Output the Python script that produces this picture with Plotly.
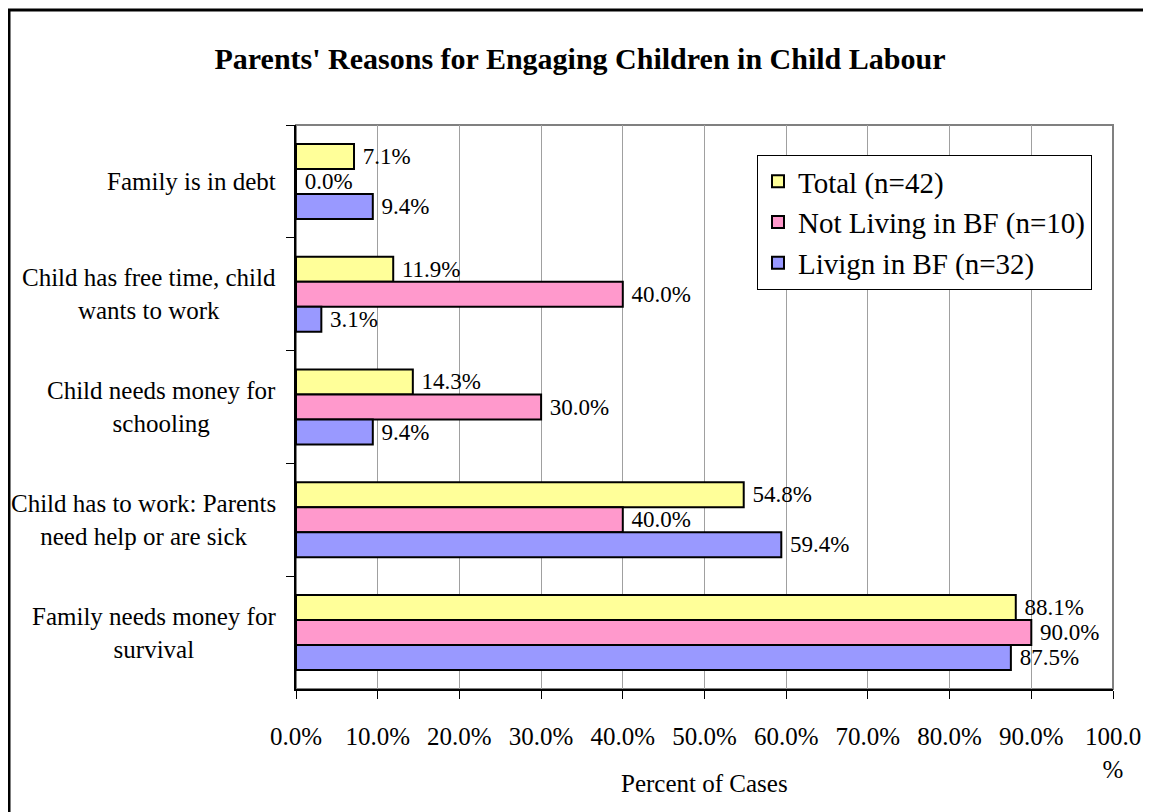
import plotly.graph_objects as go

categories = [
    "Family is in debt",
    "Child has free time, child<br>wants to work",
    "Child needs money for<br>schooling",
    "Child has to work: Parents<br>need help or are sick",
    "Family needs money for<br>survival",
]
series_names = ["Total (n=42)", "Not Living in BF (n=10)", "Livign in BF (n=32)"]
total = [7.1, 11.9, 14.3, 54.8, 88.1]
not_living = [0.0, 40.0, 30.0, 40.0, 90.0]
living = [9.4, 3.1, 9.4, 59.4, 87.5]
colors = ["#FFFF99", "#FF99CC", "#9999FF"]
tick_vals = [0, 10, 20, 30, 40, 50, 60, 70, 80, 90, 100]
tick_text = ["0.0%", "10.0%", "20.0%", "30.0%", "40.0%", "50.0%", "60.0%",
             "70.0%", "80.0%", "90.0%", "100.0<br>%"]

FONT = "Liberation Serif, Times New Roman, serif"

# page offset (body margin) compensation
OX, OY = 8, 8
L, T, R, B = 296 - OX, 125 - OY, 1113 - OX, 689 - OY
PW, PH = R - L, B - T

fig = go.Figure()
for name, vals, col in zip(series_names, [total, not_living, living], colors):
    fig.add_trace(go.Bar(
        y=categories, x=vals, name=name, orientation="h",
        marker=dict(color=col, line=dict(color="black", width=2)),
        text=[f"\u00a0{v:.1f}%" for v in vals], textposition="outside",
        textfont=dict(family=FONT, size=23, color="black"),
        constraintext="none", cliponaxis=False,
    ))

annotations = []
for c in categories:
    annotations.append(dict(
        text=c, x=(278 - 296) / PW, xref="paper", y=c, yref="y",
        xanchor="right", yanchor="middle", align="center", showarrow=False,
        font=dict(family=FONT, size=25, color="black"),
    ))
annotations.append(dict(
    text="Percent of Cases", x=0.5, xref="paper", y=-(783 - 689) / PH, yref="paper",
    xanchor="center", yanchor="middle", showarrow=False,
    font=dict(family=FONT, size=25, color="black"),
))

shapes = [
    dict(type="rect", xref="paper", yref="paper", x0=0, x1=1, y0=0, y1=1,
         line=dict(color="#808080", width=2), layer="below"),
    dict(type="rect", xref="paper", yref="paper",
         x0=(9 - 296) / PW, x1=1.08, y0=-0.3, y1=1 + (125 - 10) / PH,
         line=dict(color="black", width=3), layer="below"),
]

fig.update_layout(
    width=1151, height=812,
    margin=dict(l=L, r=1151 - R, t=T, b=812 - B),
    paper_bgcolor="white", plot_bgcolor="white",
    barmode="group", bargap=0.335, bargroupgap=0,
    title=dict(text="<b>Parents' Reasons for Engaging Children in Child Labour</b>",
               x=(580 - OX) / 1151, xref="container", xanchor="center",
               y=1 - (58 - OY) / 812, yref="container", yanchor="middle",
               font=dict(family=FONT, size=30, color="black")),
    legend=dict(x=(757 - 296) / PW, y=1 - (155 - 125) / PH, xanchor="left", yanchor="top",
                bgcolor="white", bordercolor="black", borderwidth=1,
                font=dict(family=FONT, size=29, color="black"), traceorder="normal"),
    xaxis=dict(range=[0, 100], tickvals=tick_vals, ticktext=tick_text,
               showgrid=True, gridcolor="#A0A0A0", gridwidth=1,
               showline=True, linecolor="black", linewidth=2,
               ticks="outside", ticklen=8, tickcolor="black", tickwidth=1,
               ticklabelstandoff=16,
               tickfont=dict(family=FONT, size=25, color="black"),
               zeroline=False, fixedrange=True),
    yaxis=dict(autorange="reversed", showticklabels=False,
               showline=True, linecolor="black", linewidth=2,
               ticks="outside", ticklen=8, tickcolor="black", tickwidth=1,
               tickson="boundaries", showgrid=False, zeroline=False),
    annotations=annotations, shapes=shapes,
)

fig.write_html("out.html")
